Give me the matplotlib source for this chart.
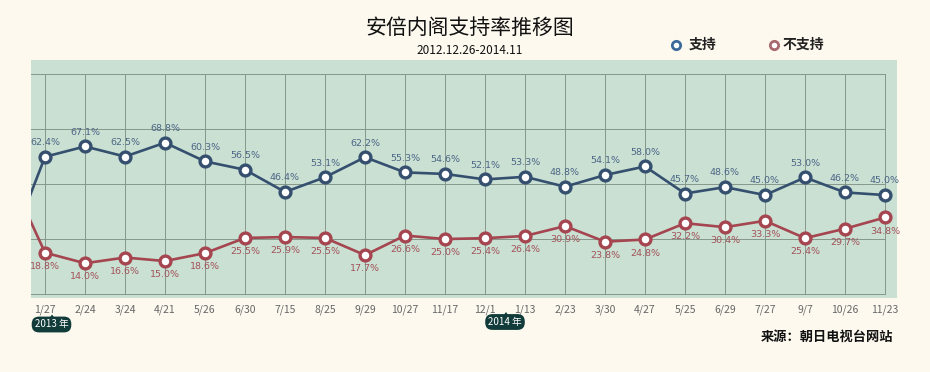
import numpy as np
import matplotlib.pyplot as plt
from matplotlib.patches import Polygon

plt.rcParams['font.family'] = ['Noto Sans CJK SC', 'DejaVu Sans']

# poll dates (first point 12/26 sits just left of the visible area)
dates = ['12/26', '1/27', '2/24', '3/24', '4/21', '5/26', '6/30', '7/15', '8/25', '9/29',
         '10/27', '11/17', '12/1', '1/13', '2/23', '3/30', '4/27', '5/25', '6/29',
         '7/27', '9/7', '10/26', '11/23']
support = [15.3, 62.4, 67.1, 62.5, 68.8, 60.3, 56.5, 46.4, 53.1, 62.2, 55.3, 54.6,
           52.1, 53.3, 48.8, 54.1, 58.0, 45.7, 48.6, 45.0, 53.0, 46.2, 45.0]
oppose = [58.5, 18.8, 14.0, 16.6, 15.0, 18.6, 25.5, 25.9, 25.5, 17.7, 26.6, 25.0,
          25.4, 26.4, 30.9, 23.8, 24.8, 32.2, 30.4, 33.3, 25.4, 29.7, 34.8]
gridlines = [0, 25, 50, 75, 100]

bg = '#fdf9ef'
green = '#c9e0d3'
blue = '#35506f'
red = '#a5454f'
grid_c = '#85968a'
badge_c = '#113c3a'

x = np.arange(len(dates)) - 1  # visible points at 0..21

fig = plt.figure(figsize=(9.3, 3.72), dpi=100, facecolor=bg)
ax = fig.add_axes([31 / 930, 1 - 298 / 372, 866 / 930, 238 / 372])
ax.set_facecolor(green)
for s in ax.spines.values():
    s.set_visible(False)

ax.set_xlim(-0.35, 21.3)
ax.set_ylim(-1.8, 106.4)

# grid box
for g in gridlines:
    ax.plot([-0.35, 21], [g, g], color=grid_c, lw=0.7, zorder=1)
for xi in x[1:]:
    ax.plot([xi, xi], [0, 100], color=grid_c, lw=0.7, zorder=1)

ax.plot(x, support, color=blue, lw=1.9, zorder=3)
ax.plot(x, oppose, color=red, lw=1.9, zorder=3)
ax.plot(x[1:], support[1:], 'o', ms=7.8, mfc='white', mec=blue, mew=2.4, zorder=4)
ax.plot(x[1:], oppose[1:], 'o', ms=7.8, mfc='white', mec=red, mew=2.4, zorder=4)

for xi, s, o in zip(x[1:], support[1:], oppose[1:]):
    ax.annotate(f'{s:.1f}%', (xi, s), xytext=(0, 7), textcoords='offset points',
                ha='center', va='bottom', fontsize=6.8, color='#4d6685',
                family=['DejaVu Sans'])
    ax.annotate(f'{o:.1f}%', (xi, o), xytext=(0, -6.5), textcoords='offset points',
                ha='center', va='top', fontsize=6.8, color='#a4525a',
                family=['DejaVu Sans'])

ax.set_xticks(x[1:])
ax.set_xticklabels(dates[1:], fontsize=7.5, color='#666666')
ax.tick_params(axis='x', length=0, pad=5)
ax.set_yticks([])

# title, subtitle
fig.text(470 / 930, 1 - 28 / 372, '安倍内阁支持率推移图', ha='center', va='center',
         fontsize=15, color='#111111')
fig.text(470 / 930, 1 - 50 / 372, '2012.12.26-2014.11', ha='center', va='center',
         fontsize=8.5, color='#111111')

# legend
fig.lines.append(plt.Line2D([676 / 930], [1 - 45 / 372], marker='o', ms=6, mfc='white',
                            mec='#3b6a9a', mew=2, transform=fig.transFigure))
fig.text(689 / 930, 1 - 45 / 372, '支持', ha='left', va='center', fontsize=10,
         fontweight='bold', color='#222222')
fig.lines.append(plt.Line2D([774 / 930], [1 - 45 / 372], marker='o', ms=6, mfc='white',
                            mec='#a86a6e', mew=2, transform=fig.transFigure))
fig.text(783 / 930, 1 - 45 / 372, '不支持', ha='left', va='center', fontsize=10,
         fontweight='bold', color='#222222')

# year badges
def badge(xc, yc, xp, label):
    fig.text(xc / 930, 1 - yc / 372, label, ha='center', va='center', fontsize=7,
             color='white', zorder=5,
             bbox=dict(boxstyle='round,pad=0.3,rounding_size=0.75', fc=badge_c, ec='none'))
    top = yc - 6
    tri = Polygon([((xp - 4) / 930, 1 - (top + 1.5) / 372), ((xp + 4) / 930, 1 - (top + 1.5) / 372),
                   (xp / 930, 1 - (top - 4) / 372)], closed=True,
                  transform=fig.transFigure, fc=badge_c, ec='none', zorder=2)
    fig.patches.append(tri)

badge(51.5, 324.5, 52, '2013 年')
badge(505, 322, 506, '2014 年')

fig.text(893 / 930, 1 - 337 / 372, '来源：朝日电视台网站', ha='right', va='center',
         fontsize=9.5, fontweight='bold', color='#111111')

fig.savefig('out.png', dpi=100, facecolor=bg)
